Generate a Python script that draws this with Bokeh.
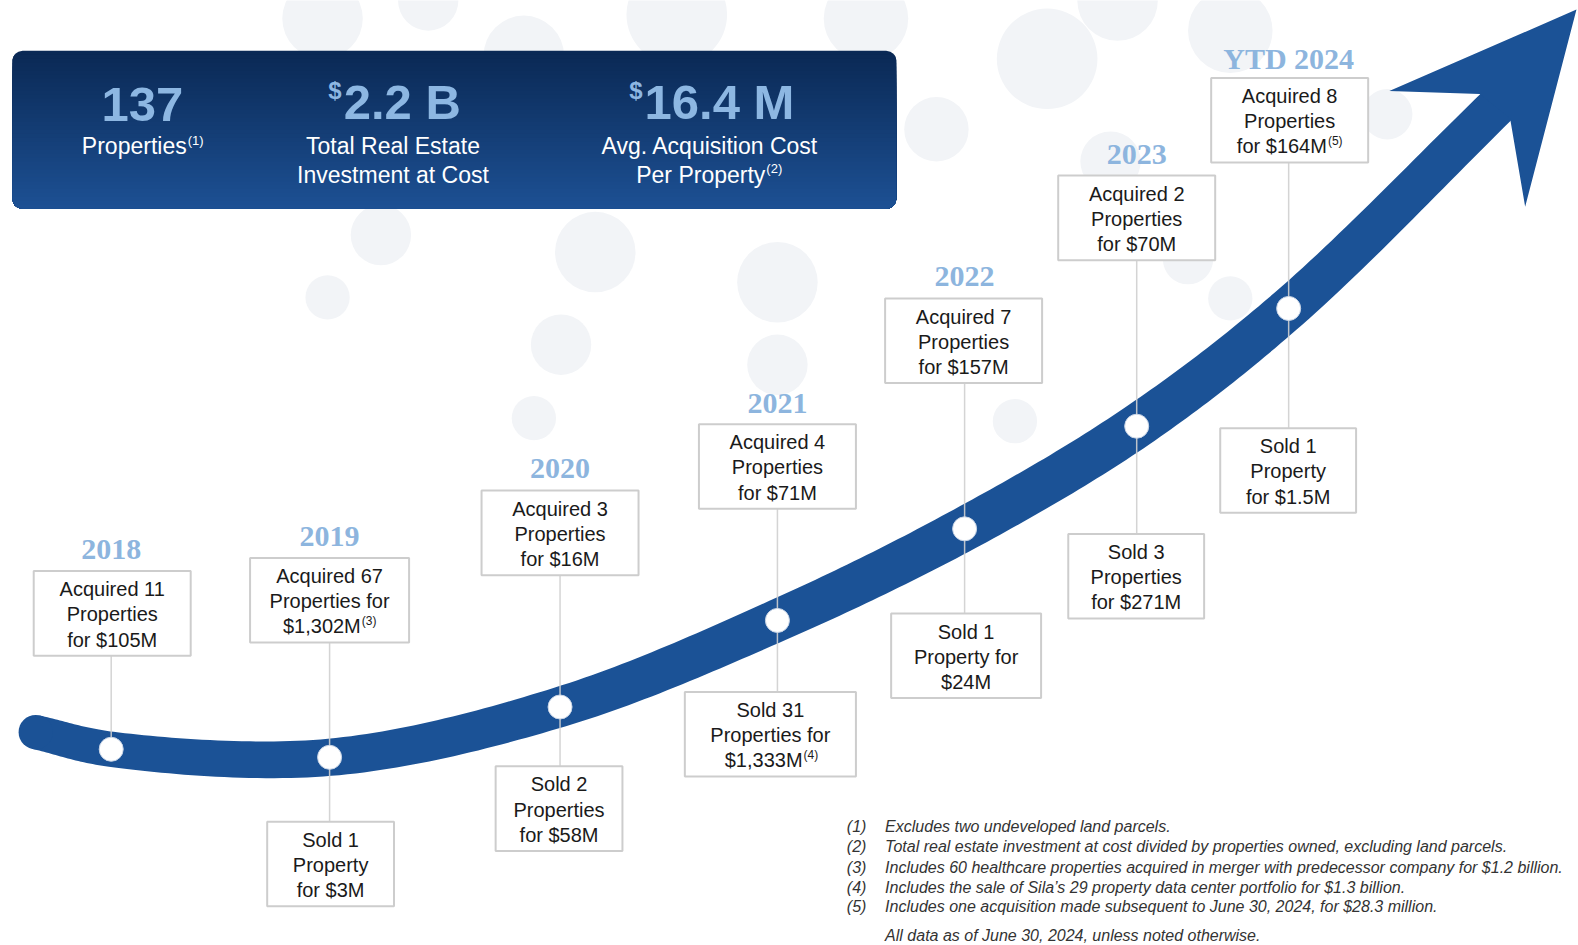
import numpy as np
from bokeh.plotting import figure
from bokeh.models import Range1d
from bokeh.core.properties import value
from bokeh.embed import file_html
from bokeh.resources import INLINE

# ------------------------------------------------------------------ data
years = ["2018", "2019", "2020", "2021", "2022", "2023", "YTD 2024"]
acquired_count = [11, 67, 3, 4, 7, 2, 8]
acquired_amount = ["$105M", "$1,302M", "$16M", "$71M", "$157M", "$70M", "$164M"]
acquired_note = ["", "(3)", "", "", "", "", "(5)"]
sold_count = [None, 1, 2, 31, 1, 3, 1]
sold_amount = [None, "$3M", "$58M", "$1,333M", "$24M", "$271M", "$1.5M"]
sold_note = ["", "", "", "(4)", "", "", ""]

stat_values = ["137", "2.2 B", "16.4 M"]
stat_prefix = ["", "$", "$"]
stat_label_1 = ["Properties", "Total Real Estate", "Avg. Acquisition Cost"]
stat_label_2 = ["", "Investment at Cost", "Per Property"]
stat_label_note = ["(1)", "", "(2)"]

footnote_marks = ["(1)", "(2)", "(3)", "(4)", "(5)"]
footnote_texts = [
    "Excludes two undeveloped land parcels.",
    "Total real estate investment at cost divided by properties owned, excluding land parcels.",
    "Includes 60 healthcare properties acquired in merger with predecessor company for $1.2 billion.",
    "Includes the sale of Sila\u2019s 29 property data center portfolio for $1.3 billion.",
    "Includes one acquisition made subsequent to June 30, 2024, for $28.3 million.",
]
as_of_text = "All data as of June 30, 2024, unless noted otherwise."

# ------------------------------------------------------------------ layout (pixel space of the slide)
node_x = [110, 327, 556, 772, 958, 1129, 1280]
node_y = [744, 752, 702, 616, 525, 423, 306]
year_y = [546, 533, 465, 400, 274, 153, 58]
acq_box = [(33, 189, 567), (248, 406, 554), (478, 634, 487), (694, 850, 421),
           (879, 1035, 296), (1051, 1207, 174), (1203, 1359, 77)]
sold_box = [None, (265, 391, 816), (492, 618, 761), (680, 850, 687),
            (885, 1034, 609), (1061, 1196, 530), (1212, 1347, 425)]
acq_wrap = "ABAAAAA"
sold_wrap = " AABBAA"
note_anchor_acq = {1: 358, 6: 1318}
note_anchor_sold = {3: 797}
BOX_H = 84
band_start = (35, 727)
band_end = (1494, 98)
band_w = [34, 35, 37, 40, 42, 44, 44, 42, 40]
head = [(1566, 9), (1380, 90), (1470, 93), (1500, 117), (1515, 205)]
bubbles = [(320, 18, 40), (425, 0, 30), (520, 55, 40), (672, 14, 50), (860, 18, 42),
           (1040, 58, 50), (1110, 0, 40), (1222, 30, 42), (930, 128, 32), (1378, 113, 25),
           (378, 233, 30), (325, 295, 22), (591, 250, 40), (772, 280, 40), (557, 342, 30),
           (530, 415, 22), (772, 362, 30), (1008, 418, 22), (1103, 160, 30), (1180, 257, 25),
           (1222, 296, 22)]

BLUE = "#1b5296"
YEAR_C = "#8db5de"
SANS = value("Liberation Sans")
SERIF = value("Liberation Serif")

S = 1578 / 1568
p = figure(width=1578, height=945, x_range=Range1d(0, 1568), y_range=Range1d(939, 0),
           output_backend="svg", toolbar_location=None, min_border=0,
           x_axis_type=None, y_axis_type=None)
p.outline_line_color = None
p.background_fill_color = "white"
p.border_fill_color = "white"

# background bubbles
p.circle(x=[b[0] for b in bubbles], y=[b[1] for b in bubbles], radius=[b[2] for b in bubbles],
         fill_color="#f2f4f7", line_color=None)

# header box with vertical gradient and rounded corners
T, B, L, R, r = 50, 207, 12, 890, 10
top_c = np.array([10, 40, 84]); bot_c = np.array([29, 81, 148])


def inset(y):
    d = max(min(y - T, B - y), 0)
    if d >= r:
        return 0.0
    return r - np.sqrt(max(r * r - (r - d) ** 2, 0))


N = 40
gxs, gys, gcs = [], [], []
for k in range(N):
    ya = T + (B - T) * k / N
    ys = np.concatenate([np.linspace(ya, ya + r, 12), np.linspace(B - r, B, 12)]) if ya < T + r else \
        np.concatenate([[ya], np.linspace(B - r, B, 12)])
    ys = np.sort(np.clip(ys, ya, B))
    left = [L + inset(y) for y in ys]
    right = [R - inset(y) for y in ys]
    gxs.append(left + right[::-1])
    gys.append(list(ys) + list(ys[::-1]))
    c = top_c + (bot_c - top_c) * (k + 0.5) / N
    gcs.append("#%02x%02x%02x" % tuple(int(round(v)) for v in c))
p.patches(xs=gxs, ys=gys, fill_color=gcs, line_color=None)


# arrow band (centripetal Catmull-Rom through the nodes)
def cr(p0, p1, p2, p3, n, alpha=0.5):
    def tj(ti, pi, pj):
        return ti + max(np.linalg.norm(pj - pi), 1e-6) ** alpha
    t0 = 0.0; t1 = tj(t0, p0, p1); t2 = tj(t1, p1, p2); t3 = tj(t2, p2, p3)
    t = np.linspace(t1, t2, n)[:, None]
    A1 = (t1 - t) / (t1 - t0) * p0 + (t - t0) / (t1 - t0) * p1
    A2 = (t2 - t) / (t2 - t1) * p1 + (t - t1) / (t2 - t1) * p2
    A3 = (t3 - t) / (t3 - t2) * p2 + (t - t2) / (t3 - t2) * p3
    B1 = (t2 - t) / (t2 - t0) * A1 + (t - t0) / (t2 - t0) * A2
    B2 = (t3 - t) / (t3 - t1) * A2 + (t - t1) / (t3 - t1) * A3
    return (t2 - t) / (t2 - t1) * B1 + (t - t1) / (t2 - t1) * B2


P = np.array([band_start] + list(zip(node_x, node_y)) + [band_end], float)
E = np.vstack([2 * P[0] - P[1], P, 2 * P[-1] - P[-2]])
pts, ws = [], []
for i in range(len(P) - 1):
    seg = cr(E[i], E[i + 1], E[i + 2], E[i + 3], 30)
    if i < len(P) - 2:
        seg = seg[:-1]
    tt = np.linspace(0, 1, 30)[:len(seg)]
    pts.append(seg)
    ws.append(band_w[i] + (band_w[i + 1] - band_w[i]) * tt)
C = np.vstack(pts); W = np.concatenate(ws)
D = np.gradient(C, axis=0)
Nrm = np.column_stack([-D[:, 1], D[:, 0]]) / np.linalg.norm(D, axis=1)[:, None]
up = C + Nrm * W[:, None] / 2
lo = C - Nrm * W[:, None] / 2
p.patch(x=list(up[:, 0]) + list(lo[::-1, 0]), y=list(up[:, 1]) + list(lo[::-1, 1]),
        fill_color=BLUE, line_color=None)
p.scatter(x=[band_start[0]], y=[band_start[1]], size=band_w[0] * S, marker="circle",
          fill_color=BLUE, line_color=None)
p.patch(x=[h[0] for h in head], y=[h[1] for h in head], fill_color=BLUE, line_color=None)

# connectors
cx0, cy0, cx1, cy1 = [], [], [], []
for i in range(len(years)):
    top = acq_box[i][2] + BOX_H
    bot = sold_box[i][2] if sold_box[i] else node_y[i]
    cx0.append(node_x[i]); cy0.append(top); cx1.append(node_x[i]); cy1.append(bot)
p.segment(x0=cx0, y0=cy0, x1=cx1, y1=cy1, line_color="#cfcfcf", line_width=1.5, line_alpha=0.9)

# nodes
p.scatter(x=node_x, y=node_y, size=24, marker="circle", fill_color="white",
          line_color="#c9d5e6", line_width=1)

# boxes
qs = [b for b in acq_box] + [b for b in sold_box if b]
p.quad(left=[q[0] for q in qs], right=[q[1] for q in qs], top=[q[2] for q in qs],
       bottom=[q[2] + BOX_H for q in qs], fill_color="white", line_color="#cdcdcd", line_width=2)


def lines_for(verb, n, amt, style):
    noun = "Property" if n == 1 else "Properties"
    if style == "A":
        return [f"{verb} {n}", noun, f"for {amt}"]
    return [f"{verb} {n}", f"{noun} for", amt]


tx, ty, tt_, ta = [], [], [], []
nx, ny, nt = [], [], []
for i in range(len(years)):
    groups = [(acq_box[i], lines_for("Acquired", acquired_count[i], acquired_amount[i], acq_wrap[i]),
               acquired_note[i], note_anchor_acq.get(i))]
    if sold_box[i]:
        groups.append((sold_box[i], lines_for("Sold", sold_count[i], sold_amount[i], sold_wrap[i]),
                       sold_note[i], note_anchor_sold.get(i)))
    for box, lines, note, anchor in groups:
        xc = (box[0] + box[1]) / 2
        for j, ln in enumerate(lines):
            y = box[2] + 18 + 25 * j
            if j == 2 and note:
                tx.append(anchor); ty.append(y); tt_.append(ln); ta.append("right")
                nx.append(anchor + 1); ny.append(y - 5); nt.append(note)
            else:
                tx.append(xc); ty.append(y); tt_.append(ln); ta.append("center")
p.text(x=tx, y=ty, text=tt_, text_align=ta, text_baseline="middle", text_font=SANS,
       text_font_size=value("20px"), text_color="#1a1a1a")
p.text(x=nx, y=ny, text=nt, text_align="left", text_baseline="middle", text_font=SANS,
       text_font_size=value("12px"), text_color="#1a1a1a")

# year labels
p.text(x=node_x, y=year_y, text=years, text_align="center", text_baseline="middle",
       text_font=SERIF, text_font_style="bold", text_font_size=value("30px"), text_color=YEAR_C)

# header stats
stat_x = [141, 340, 639]
for k in range(3):
    if stat_prefix[k]:
        p.text(x=[stat_x[k] - 1], y=[89], text=[stat_prefix[k]], text_align="right", text_baseline="middle",
               text_font=SANS, text_font_style="bold", text_font_size=value("24px"), text_color="#8db7e2")
        p.text(x=[stat_x[k] + 1], y=[101], text=[stat_values[k]], text_align="left", text_baseline="middle",
               text_font=SANS, text_font_style="bold", text_font_size=value("49px"), text_color="#8db7e2")
    else:
        p.text(x=[stat_x[k]], y=[103], text=[stat_values[k]], text_align="center", text_baseline="middle",
               text_font=SANS, text_font_style="bold", text_font_size=value("49px"), text_color="#8db7e2")

label_cx = [141, 390, 705]
note_anchor_hdr = [185, None, 760]
for k in range(3):
    rows = [stat_label_1[k]] + ([stat_label_2[k]] if stat_label_2[k] else [])
    for j, row in enumerate(rows):
        y = 145 + 28 * j
        last = j == len(rows) - 1
        if last and stat_label_note[k]:
            a = note_anchor_hdr[k]
            p.text(x=[a], y=[y], text=[row], text_align="right", text_baseline="middle", text_font=SANS,
                   text_font_size=value("23px"), text_color="white")
            p.text(x=[a + 1], y=[y - 6], text=[stat_label_note[k]], text_align="left", text_baseline="middle",
                   text_font=SANS, text_font_size=value("13px"), text_color="white")
        else:
            p.text(x=[label_cx[k]], y=[y], text=[row], text_align="center", text_baseline="middle",
                   text_font=SANS, text_font_size=value("23px"), text_color="white")

# footnotes
fy = [821, 841, 861, 881, 900]
p.text(x=[841] * 5, y=fy, text=footnote_marks, text_align="left", text_baseline="middle", text_font=SANS,
       text_font_style="italic", text_font_size=value("16px"), text_color="#333333")
p.text(x=[879] * 5, y=fy, text=footnote_texts, text_align="left", text_baseline="middle", text_font=SANS,
       text_font_style="italic", text_font_size=value("16px"), text_color="#333333")
p.text(x=[879], y=[929], text=[as_of_text], text_align="left", text_baseline="middle", text_font=SANS,
       text_font_style="italic", text_font_size=value("16px"), text_color="#333333")

open("out.html", "w").write(file_html(p, INLINE))
